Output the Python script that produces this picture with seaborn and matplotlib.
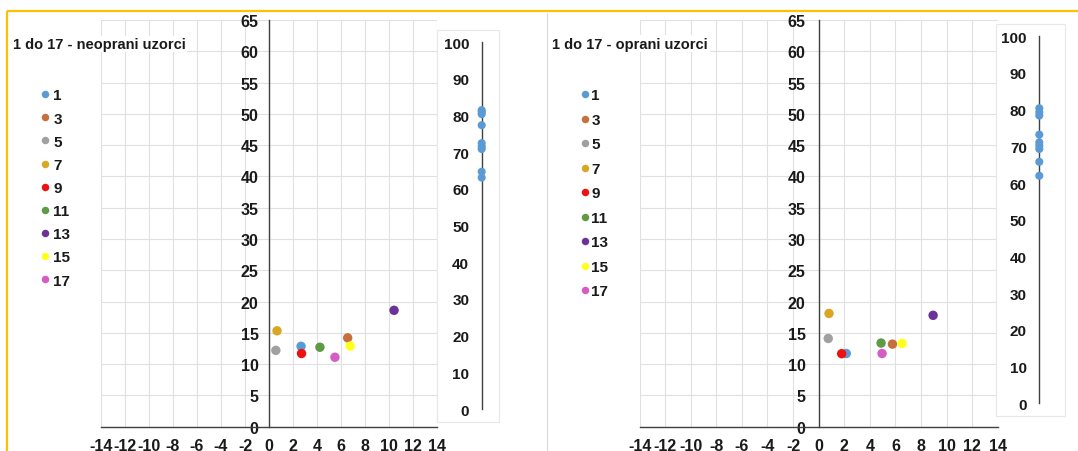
import matplotlib
matplotlib.use("Agg")
import matplotlib.pyplot as plt
import seaborn as sns
import pandas as pd
from matplotlib.lines import Line2D
from matplotlib.patches import Rectangle

# ---------------- data ----------------
samples = ['1', '3', '5', '7', '9', '11', '13', '15', '17']
colors = ['#5b9bd5', '#c8703c', '#a0a0a0', '#dca625', '#ee1111',
          '#5f9a45', '#6b3399', '#ffff1a', '#d45cc3']

neoprani_x = [2.66, 6.54, 0.56, 0.66, 2.70, 4.23, 10.40, 6.75, 5.48]
neoprani_y = [12.85, 14.20, 12.20, 15.33, 11.70, 12.70, 18.60, 12.88, 11.10]
oprani_x = [2.16, 5.77, 0.75, 0.81, 1.80, 4.88, 8.95, 6.52, 4.96]
oprani_y = [11.70, 13.20, 14.10, 18.10, 11.67, 13.37, 17.80, 13.30, 11.70]

inset_neoprani = [81.5, 81.0, 80.4, 77.4, 72.5, 71.6, 70.9, 64.7, 63.1]
inset_oprani = [80.4, 79.3, 78.4, 73.2, 71.1, 70.2, 69.3, 65.8, 62.0]

x_ticks = list(range(-14, 15, 2))
y_ticks = list(range(0, 66, 5))
inset_ticks = list(range(0, 101, 10))
titles = ['1 do 17 - neoprani uzorci', '1 do 17 - oprani uzorci']

# ---------------- style ----------------
sns.set_theme(style="white")
plt.rcParams['font.family'] = ['Liberation Sans', 'DejaVu Sans']
plt.rcParams['font.weight'] = 'bold'
plt.rcParams['axes.unicode_minus'] = False

W, H = 1078, 452
fig = plt.figure(figsize=(W / 100, H / 100), dpi=100)
fig.patch.set_facecolor('white')


def rect(x0, y0, x1, y1):
    return [x0 / W, 1 - y1 / H, (x1 - x0) / W, (y1 - y0) / H]


palette = dict(zip(samples, colors))

layouts = [
    dict(main=(100.9, 21, 437.3, 427.7), ypad=7.6,
         inset=(437.3, 30.7, 498.6, 422.7), line_px=481.7, zero_px=410.0, hund_px=43.3,
         title=(12.7, 45), leg_marker_x=45.0, leg_text_x=53.3, leg_first_y=95.0, leg_step=23.25),
    dict(main=(639.6, 21, 997.7, 427.7), ypad=9.4,
         inset=(996.0, 25.0, 1065.0, 417.0), line_px=1039.3, zero_px=404.3, hund_px=37.3,
         title=(552.5, 44.5), leg_marker_x=584.5, leg_text_x=591.4, leg_first_y=95.0, leg_step=24.6),
]

series = [(neoprani_x, neoprani_y, inset_neoprani), (oprani_x, oprani_y, inset_oprani)]

axis_color = '#404040'
grid_color = '#e0e0e0'
text_color = '#1a1a1a'

for lay, (xs, ys, ins), title in zip(layouts, series, titles):
    # ----- main scatter -----
    ax = fig.add_axes(rect(*lay['main']))
    df = pd.DataFrame({'x': xs, 'y': ys, 'uzorak': samples})
    sns.scatterplot(data=df, x='x', y='y', hue='uzorak', hue_order=samples,
                    palette=palette, s=46, edgecolor='none', legend=False,
                    ax=ax, zorder=3)
    ax.set_xlim(-14, 14)
    ax.set_ylim(0, 65)
    ax.set_xticks(x_ticks)
    ax.set_yticks(y_ticks)
    ax.set_xlabel('')
    ax.set_ylabel('')
    ax.grid(True, color=grid_color, lw=0.8)
    ax.set_axisbelow(True)
    ax.spines['top'].set_visible(False)
    ax.spines['right'].set_visible(False)
    ax.spines['left'].set_position(('data', 0))
    ax.spines['bottom'].set_position(('data', 0))
    for sp in ('left', 'bottom'):
        ax.spines[sp].set_color(axis_color)
        ax.spines[sp].set_linewidth(1.0)
    ax.tick_params(axis='both', length=0, labelsize=11.5, colors=text_color)
    ax.tick_params(axis='y', pad=lay['ypad'])
    ax.tick_params(axis='x', pad=8.0)
    for lbl in ax.get_xticklabels() + ax.get_yticklabels():
        lbl.set_fontweight('bold')
    ax.patch.set_alpha(0)

    # ----- inset vertical axis -----
    bx0, by0, bx1, by1 = lay['inset']
    iax = fig.add_axes(rect(bx0, by0, bx1, by1))
    f = (lay['line_px'] - bx0) / (bx1 - bx0)
    ppu = (lay['zero_px'] - lay['hund_px']) / 100.0
    ylo = -(by1 - lay['zero_px']) / ppu
    yhi = 100 + (lay['hund_px'] - by0) / ppu
    iax.set_facecolor('white')
    iax.add_patch(Rectangle((0, 0), 1, 1, transform=iax.transAxes, fill=False,
                            edgecolor='#e8e8e8', lw=0.9, clip_on=False, zorder=0))
    sns.scatterplot(x=[0] * len(ins), y=ins, color='#5b9bd5', s=34,
                    edgecolor='none', ax=iax, zorder=3, clip_on=False, legend=False)
    iax.set_xlim(-f, 1 - f)
    iax.set_ylim(ylo, yhi)
    iax.set_xticks([])
    iax.set_yticks(inset_ticks)
    for sp in ('top', 'right', 'bottom'):
        iax.spines[sp].set_visible(False)
    iax.spines['left'].set_position(('data', 0))
    iax.spines['left'].set_bounds(0, 100)
    iax.spines['left'].set_color(axis_color)
    iax.spines['left'].set_linewidth(1.0)
    iax.tick_params(axis='y', length=0, labelsize=11, pad=9.0, colors=text_color)
    for lbl in iax.get_yticklabels():
        lbl.set_fontweight('bold')
    iax.set_xlabel('')
    iax.set_ylabel('')

    # ----- title -----
    fig.text(lay['title'][0] / W, 1 - lay['title'][1] / H, title, fontsize=10.5,
             fontweight='bold', ha='left', va='center', color=text_color,
             bbox=dict(facecolor='white', edgecolor='none', pad=1.0))

    # ----- legend -----
    fs = 11.0
    fs_px = fs * 100 / 72
    row_h = 0.923 * fs_px
    handles = [Line2D([], [], marker='o', linestyle='', color=c, markersize=5.4,
                      markeredgewidth=0) for c in colors]
    hl = 0.55
    x_left = lay['leg_marker_x'] - hl * fs_px / 2
    htp = (lay['leg_text_x'] - (x_left + hl * fs_px)) / fs_px
    top = lay['leg_first_y'] - row_h / 2 + 1.5
    lsp = (lay['leg_step'] - row_h) / fs_px
    leg = fig.legend(handles, samples, loc='upper left',
                     bbox_to_anchor=(x_left / W, 1 - top / H),
                     bbox_transform=fig.transFigure, frameon=False,
                     borderpad=0, borderaxespad=0, handlelength=hl,
                     handletextpad=htp, labelspacing=lsp,
                     prop={'size': fs, 'weight': 'bold'})
    for t in leg.get_texts():
        t.set_color(text_color)

# ----- frame decorations -----
def px_line(xa, ya, color, lw):
    fig.add_artist(Line2D([xa[0] / W, xa[1] / W], [1 - ya[0] / H, 1 - ya[1] / H],
                          transform=fig.transFigure, color=color, lw=lw,
                          solid_capstyle='butt'))

px_line((6.7, 1078), (12.3, 12.3), '#ffc000', 1.6)
px_line((6.7, 6.7), (11.5, 452), '#ffc000', 1.6)
px_line((546.7, 546.7), (13.5, 452), '#d9d9d9', 0.8)

fig.savefig('out.png', dpi=100, facecolor='white')
